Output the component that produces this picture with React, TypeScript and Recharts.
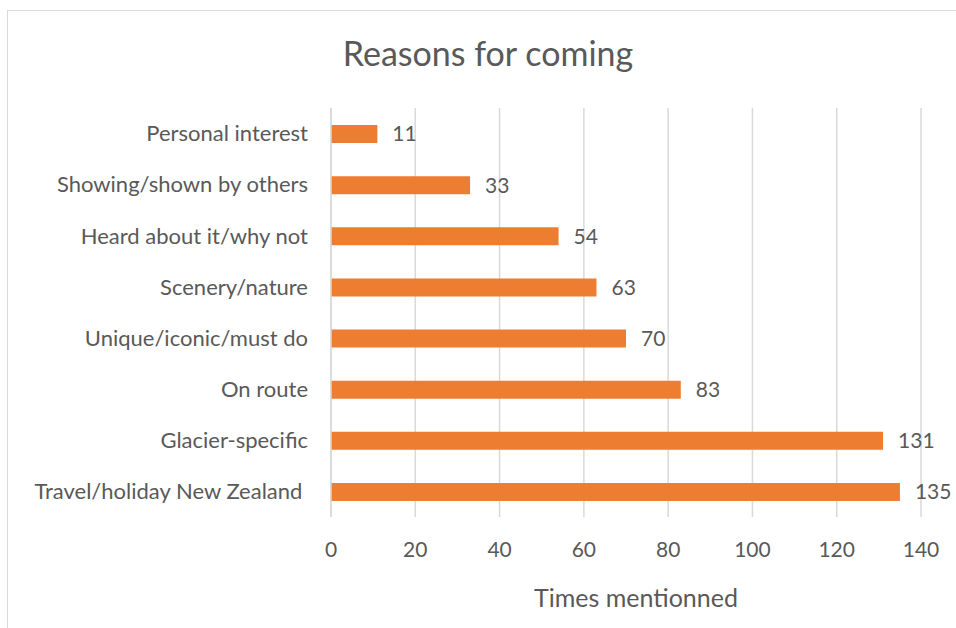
import React from 'react';
import { Bar, BarChart, CartesianGrid, LabelList, XAxis, YAxis } from 'recharts';

const reasons = [
  'Personal interest',
  'Showing/shown by others',
  'Heard about it/why not',
  'Scenery/nature',
  'Unique/iconic/must do',
  'On route',
  'Glacier-specific',
  'Travel/holiday New Zealand ',
];
const mentions = [11, 33, 54, 63, 70, 83, 131, 135];
const xTicks = [0, 20, 40, 60, 80, 100, 120, 140];

const FONT = 'Lato, "Open Sans", sans-serif';
const TEXT = '#595959';
const GRID = '#d9d9d9';

const data = reasons.map((reason, i) => ({ reason, count: mentions[i] }));

export default function App() {
  return (
    <div style={{ position: 'fixed', left: 0, top: 0, width: 956, height: 628, overflow: 'hidden', background: '#fff', fontFamily: FONT }}>
      <div style={{ position: 'absolute', left: 7, top: 10, width: 980, height: 660, border: `1px solid ${GRID}` }} />
      <div style={{ position: 'absolute', left: 0, top: 32, width: 976, textAlign: 'center', fontSize: 34, color: TEXT, lineHeight: '41px' }}>
        Reasons for coming
      </div>
      <div style={{ position: 'absolute', left: 341, top: 582, width: 590, textAlign: 'center', fontSize: 25, color: TEXT, lineHeight: '30px' }}>
        Times mentionned
      </div>
      <div style={{ position: 'absolute', left: 0, top: 0 }}>
        <BarChart
          width={956}
          height={628}
          data={data}
          layout="vertical"
          margin={{ top: 108, right: 35, bottom: 0, left: 0 }}
        >
          <CartesianGrid horizontal={false} stroke={GRID} strokeWidth={1.5} />
          <XAxis
            type="number"
            domain={[0, 140]}
            ticks={xTicks}
            axisLine={false}
            tickLine={false}
            tickSize={0}
            tickMargin={25}
            height={111}
            tick={{ fontSize: 21, fill: TEXT, fontFamily: FONT }}
          />
          <YAxis
            type="category"
            dataKey="reason"
            width={331}
            axisLine={{ stroke: GRID, strokeWidth: 1.5 }}
            tickLine={false}
            tickSize={0}
            tickMargin={23}
            interval={0}
            tick={{ fontSize: 22, fill: TEXT, fontFamily: FONT, style: { whiteSpace: 'pre' } }}
          />
          <Bar dataKey="count" fill="#ED7D31" barSize={18} isAnimationActive={false}>
            <LabelList
              dataKey="count"
              position="right"
              offset={15}
              style={{ fontSize: 21, fill: TEXT, fontFamily: FONT }}
            />
          </Bar>
        </BarChart>
      </div>
    </div>
  );
}
